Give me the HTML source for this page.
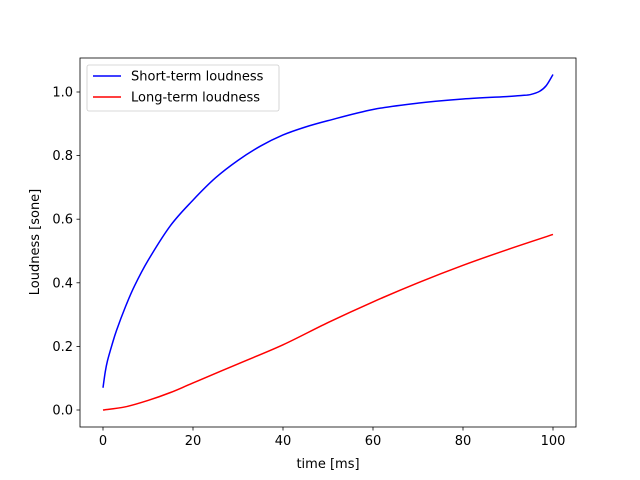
<!DOCTYPE html>
<html><head><meta charset="utf-8"><style>
body{margin:0;background:#fff;}
svg{display:block;font-family:"DejaVu Sans","Liberation Sans",sans-serif;}
</style></head><body>
<svg id="chart" width="640" height="480">
<rect x="0" y="0" width="640" height="480" fill="#fff"/>
<g id="plot"></g>
</svg>
<script>
const xTicks=[0,20,40,60,80,100];
const yTicks=[0.0,0.2,0.4,0.6,0.8,1.0];
const yTickLabels=["0.0","0.2","0.4","0.6","0.8","1.0"];
const shortT=[0,0.5,1,2,3,5,7,10,15,20,25,30,35,40,45,50,60,70,80,90,93,95,97,98.5,100];
const shortV=[0.07,0.12,0.155,0.205,0.25,0.325,0.39,0.47,0.58,0.66,0.73,0.785,0.83,0.865,0.89,0.91,0.945,0.965,0.978,0.986,0.989,0.992,1.002,1.02,1.055];
const longT=[0,5,10,15,20,30,40,50,60,70,80,90,100];
const longV=[0,0.01,0.03,0.055,0.085,0.145,0.205,0.275,0.34,0.4,0.455,0.505,0.552];
const NS="http://www.w3.org/2000/svg";
const L=80,R=576,T=58,B=427;
const xs=v=>103+v*4.5;
const ys=v=>410-v*318;
const g=document.getElementById('plot');
function mk(tag,attrs){const e=document.createElementNS(NS,tag);for(const k in attrs)e.setAttribute(k,attrs[k]);g.appendChild(e);return e;}
function smooth(pts){
  let d='M'+pts[0][0]+','+pts[0][1];
  for(let i=0;i<pts.length-1;i++){
    const p0=pts[Math.max(i-1,0)],p1=pts[i],p2=pts[i+1],p3=pts[Math.min(i+2,pts.length-1)];
    const c1x=p1[0]+(p2[0]-p0[0])/6,c1y=p1[1]+(p2[1]-p0[1])/6;
    const c2x=p2[0]-(p3[0]-p1[0])/6,c2y=p2[1]-(p3[1]-p1[1])/6;
    d+=' C'+c1x+','+c1y+' '+c2x+','+c2y+' '+p2[0]+','+p2[1];
  }
  return d;
}
function line(t,v,color,name){
  const p=mk('path',{d:smooth(t.map((x,i)=>[xs(x),ys(v[i])])),fill:'none',stroke:color,'stroke-width':1.5});
  
  
}
line(shortT,shortV,'#0000ff','short-term-loudness-line');
line(longT,longV,'#ff0000','long-term-loudness-line');
const frame=mk('rect',{x:L,y:T,width:R-L,height:B-T,fill:'none',stroke:'#000','stroke-width':0.8});


xTicks.forEach(v=>{
  const tk=mk('line',{x1:xs(v),x2:xs(v),y1:B,y2:B+3.5,stroke:'#000','stroke-width':0.8});
  
  
  const tx=mk('text',{x:xs(v),y:B+18,'font-size':13,'text-anchor':'middle'});
  tx.textContent=v;
  
  
});
yTicks.forEach((v,i)=>{
  const tk=mk('line',{x1:L-3.5,x2:L,y1:ys(v),y2:ys(v),stroke:'#000','stroke-width':0.8});
  
  
  const tx=mk('text',{x:L-7,y:ys(v)+4.5,'font-size':13,'text-anchor':'end'});
  tx.textContent=yTickLabels[i];
  
  
});
const xl=mk('text',{x:328,y:468,'font-size':13,'text-anchor':'middle'});
xl.textContent='time [ms]';


const yl=mk('text',{x:0,y:0,'font-size':13,'text-anchor':'middle',transform:'translate(39,242) rotate(-90)'});
yl.textContent='Loudness [sone]';


const lg=mk('rect',{x:87,y:65,width:192,height:46,rx:2,fill:'#fff',stroke:'#ccc','stroke-width':0.8});


[['Short-term loudness','#0000ff',76],['Long-term loudness','#ff0000',97]].forEach(([lab,c,y])=>{
  const s=mk('line',{x1:93,x2:121,y1:y,y2:y,stroke:c,'stroke-width':1.5});
  
  
  const t=mk('text',{x:131,y:y+4.5,'font-size':13});
  t.textContent=lab;
  
  
});
</script>
</body></html>
